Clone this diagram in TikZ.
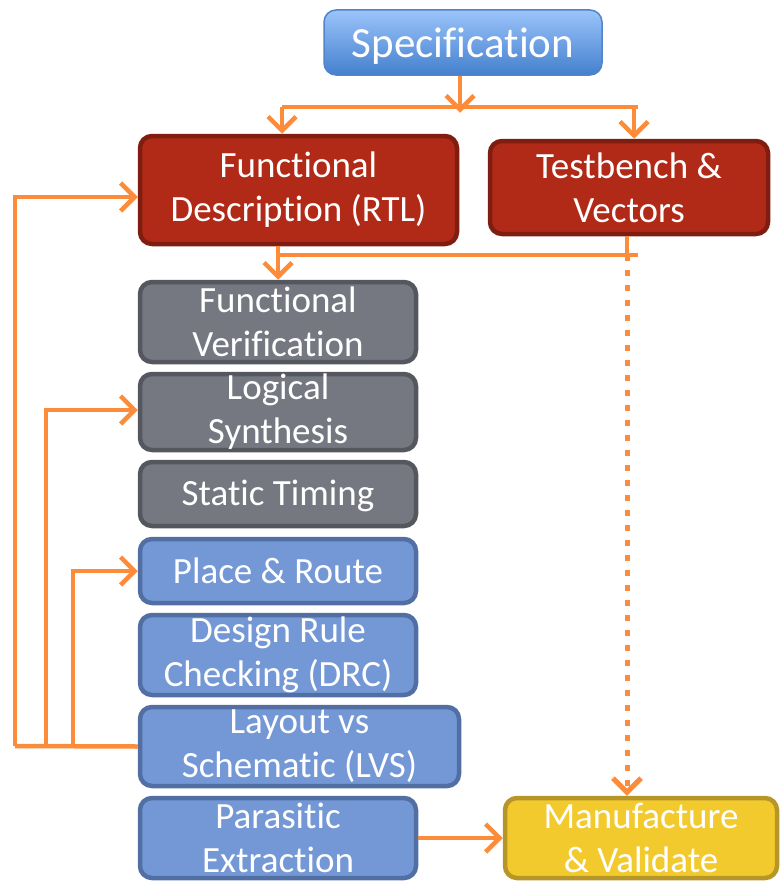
\documentclass[tikz,border=0pt]{standalone}
\usepackage{fontspec}
\setmainfont[Ligatures={NoCommon}]{Carlito}
\usetikzlibrary{arrows.meta}

\definecolor{specTop}{RGB}{155,196,250}
\definecolor{specBot}{RGB}{68,128,206}
\definecolor{specLine}{RGB}{82,132,200}
\definecolor{redFill}{RGB}{177,42,23}
\definecolor{redLine}{RGB}{126,29,16}
\definecolor{grayFill}{RGB}{117,120,128}
\definecolor{grayLine}{RGB}{84,87,94}
\definecolor{blueFill}{RGB}{116,152,214}
\definecolor{blueLine}{RGB}{82,111,163}
\definecolor{yelFill}{RGB}{243,202,46}
\definecolor{yelLine}{RGB}{182,150,40}
\definecolor{flow}{RGB}{252,140,58}

\begin{document}
\begin{tikzpicture}[x=1pt,y=-1pt,
  box/.style={rounded corners=12pt, line width=4.5pt, inner sep=0pt,
    align=center, text=white, font=\fontsize{37}{44}\selectfont},
  redbox/.style={box, fill=redFill, draw=redLine},
  graybox/.style={box, fill=grayFill, draw=grayLine},
  bluebox/.style={box, fill=blueFill, draw=blueLine},
  yelbox/.style={box, fill=yelFill, draw=yelLine},
  link/.style={draw=flow, line width=4.5pt},
  arr/.style={link, -{Straight Barb[length=14pt,width=28pt]}},
  dots/.style={arr, line width=5pt, dash pattern=on 6pt off 9pt}
]
\useasboundingbox (0,0) rectangle (779,883);

% top-level specification
\node[rounded corners=12pt, line width=1.5pt, draw=specLine,
  top color=specTop, bottom color=specBot, text=white,
  minimum width=278pt, minimum height=65pt, inner sep=0pt, text depth=0pt,
  font=\fontsize{43}{50}\selectfont] (spec) at (463,42.5) {Specification};

% design entry
\node[redbox, minimum width=317pt, minimum height=108pt] (rtl) at (298.5,190)
  {Functional\\Description (RTL)};
\node[redbox, minimum width=278pt, minimum height=93pt] (tb) at (629,187.5)
  {Testbench \&\\Vectors};

% front-end steps
\node[graybox, minimum width=276pt, minimum height=80pt] (fv) at (278,322)
  {Functional\\Verification};
\node[graybox, minimum width=276pt, minimum height=76pt] (ls) at (278,412)
  {Logical\\Synthesis};
\node[graybox, minimum width=276pt, minimum height=64pt, text depth=2pt] (st) at (278,494)
  {Static Timing};

% back-end steps
\node[bluebox, minimum width=276pt, minimum height=64pt] (pr) at (278,571)
  {Place \& Route};
\node[bluebox, minimum width=276pt, minimum height=80pt] (drc) at (278,655)
  {Design Rule\\Checking (DRC)};
\node[bluebox, minimum width=319pt, minimum height=79pt] (lvs) at (299.5,746.5)
  {Layout vs\\Schematic (LVS)};
\node[bluebox, minimum width=276pt, minimum height=80pt] (pe) at (278,838)
  {Parasitic\\Extraction};

% fabrication
\node[yelbox, minimum width=272pt, minimum height=80pt] (mv) at (641,838)
  {Manufacture\\\& Validate};

% specification fans out to RTL and testbench
\coordinate (sj) at (460,107);
\coordinate (sl) at (282,107);
\coordinate (sr) at (634,107);
\draw[link] (sl) -- (638,107);
\draw[arr] (spec.south -| sj) -- ++(0,37);
\draw[arr] (sl) -- (sl |- rtl.north);
\draw[arr] (sr) -- (sr |- tb.north);

% RTL and testbench merge into functional verification
\coordinate (mj) at (278,255);
\coordinate (tj) at (627,255);
\draw[link] (mj) -- (638,255);
\draw[link] (rtl.south -| mj) -- (mj);
\draw[link] (tb.south -| tj) -- (tj);
\draw[arr] (mj) -- (fv.north);

% test vectors carried to manufacturing
\draw[dots] (tj) -- (tj |- mv.north);

% LVS feedback loops
\coordinate (fa) at (15,746);
\coordinate (fb) at (46,746);
\coordinate (fc) at (73,746);
\draw[link] (lvs.west) -- (fa);
\draw[arr] (fa) -- (15,197) -- (rtl.west |- 0,197);
\draw[arr] (fb) -- (46,410) -- (ls.west |- 0,410);
\draw[arr] (fc) -- (73,571) -- (pr.west);

% extraction to manufacturing
\draw[arr] (pe.east) -- (mv.west);
\end{tikzpicture}
\end{document}
